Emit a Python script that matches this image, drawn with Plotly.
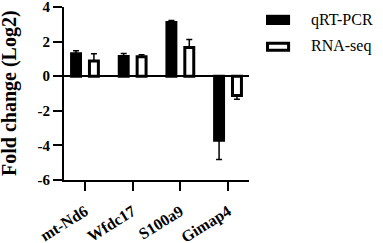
import plotly.graph_objects as go

genes = ["mt-Nd6", "Wfdc17", "S100a9", "Gimap4"]
qpcr = [1.30, 1.14, 3.10, -3.70]
qpcr_err = [0.17, 0.17, 0.12, 1.12]
rnaseq = [0.88, 1.12, 1.66, -1.12]
rnaseq_err = [0.42, 0.12, 0.46, 0.21]
series_names = ["qRT-PCR", "RNA-seq"]
y_ticks = [-6, -4, -2, 0, 2, 4]


def err_up(vals, errs):
    return [e if v >= 0 else 0 for v, e in zip(vals, errs)]


def err_down(vals, errs):
    return [e if v < 0 else 0 for v, e in zip(vals, errs)]


serif = "Liberation Serif"

fig = go.Figure()
fig.add_trace(go.Bar(
    x=genes, y=qpcr, name=series_names[0],
    marker=dict(color="black", line=dict(color="black", width=3)),
    error_y=dict(type="data", symmetric=False,
                 array=err_up(qpcr, qpcr_err), arrayminus=err_down(qpcr, qpcr_err),
                 color="black", thickness=1.5, width=3),
    showlegend=False,
))
fig.add_trace(go.Bar(
    x=genes, y=rnaseq, name=series_names[1],
    marker=dict(color="white", line=dict(color="black", width=3)),
    error_y=dict(type="data", symmetric=False,
                 array=err_up(rnaseq, rnaseq_err), arrayminus=err_down(rnaseq, rnaseq_err),
                 color="black", thickness=1.5, width=3),
    showlegend=False,
))

# legend drawn manually (wide swatches)
fig.add_shape(type="rect", xref="paper", yref="paper",
              x0=1.092, x1=1.222, y0=0.896, y1=0.955,
              fillcolor="black", line=dict(color="black", width=0))
fig.add_shape(type="rect", xref="paper", yref="paper",
              x0=1.100, x1=1.214, y0=0.750, y1=0.790,
              fillcolor="white", line=dict(color="black", width=3))
fig.add_annotation(xref="paper", yref="paper", x=1.322, y=0.925,
                   text=series_names[0], showarrow=False, xanchor="left", yanchor="middle",
                   font=dict(family=serif, size=16, color="black"))
fig.add_annotation(xref="paper", yref="paper", x=1.322, y=0.772,
                   text=series_names[1], showarrow=False, xanchor="left", yanchor="middle",
                   font=dict(family=serif, size=16, color="black"))

# y axis title
fig.add_annotation(xref="paper", yref="paper", x=-0.292, y=0.503,
                   text="<b>Fold change (Log2)</b>", showarrow=False, textangle=-90,
                   xanchor="center", yanchor="middle",
                   font=dict(family=serif, size=20, color="black"))

fig.update_layout(
    width=383, height=243,
    margin=dict(l=64, r=134, t=7, b=63),
    paper_bgcolor="white", plot_bgcolor="white",
    barmode="group", bargap=0.25, bargroupgap=0.5,
    font=dict(family=serif, color="black"),
)
fig.update_xaxes(
    range=[-0.44, 3.44], showline=True, linewidth=2, linecolor="black",
    ticks="outside", ticklen=9, tickwidth=2, tickcolor="black", automargin=False,
    tickangle=-32, showgrid=False, ticklabeloverflow="allow", ticklabelstandoff=5,
    tickvals=genes, ticktext=["<b>%s</b>" % g for g in genes],
    tickfont=dict(family=serif, size=16, color="black"),
)
fig.update_yaxes(
    range=[-6, 4], tickvals=y_ticks, ticktext=["<b>%d</b>" % t for t in y_ticks],
    showline=True, linewidth=2, linecolor="black", automargin=False,
    ticks="outside", ticklen=9, tickwidth=2, tickcolor="black", ticklabeloverflow="allow",
    showgrid=False, zeroline=True, zerolinewidth=2, zerolinecolor="black",
    tickfont=dict(family=serif, size=15, color="black"),
)

fig.write_html("out.html", config={"displayModeBar": False},
               post_script="document.body.style.margin='0';")
